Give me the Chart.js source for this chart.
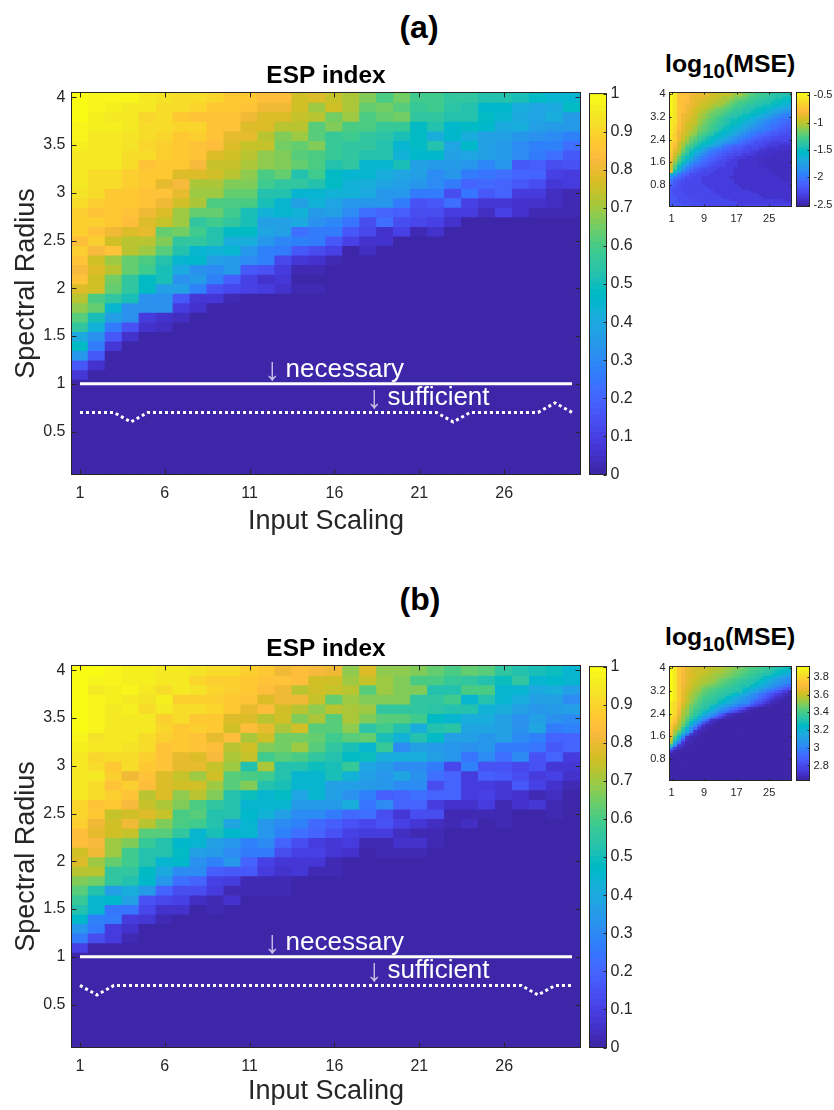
<!DOCTYPE html>
<html><head><meta charset="utf-8">
<script src="https://cdn.jsdelivr.net/npm/chart.js@4"></script>
<style>
html,body{margin:0;padding:0;background:#fff;width:834px;height:1110px;overflow:hidden;font-family:"Liberation Sans",Arial,sans-serif}
canvas{position:absolute}
.h{position:absolute;font-weight:bold;color:#000;white-space:nowrap;line-height:1}
.h.big{font-size:32px;width:100px;text-align:center}
.h.mse{font-size:24.8px}
.h.mse sub{font-size:20.5px;line-height:0;vertical-align:-6px}
</style></head><body>
<div class="h big" style="left:369px;top:11px">(a)</div>
<div class="h big" style="left:370px;top:583px">(b)</div>
<div class="h mse" style="left:665px;top:52px">log<sub>10</sub>(MSE)</div>
<div class="h mse" style="left:665px;top:625px">log<sub>10</sub>(MSE)</div>
<canvas id="mainA"></canvas><canvas id="cbA"></canvas><canvas id="smallA"></canvas><canvas id="cbSA"></canvas>
<canvas id="mainB"></canvas><canvas id="cbB"></canvas><canvas id="smallB"></canvas><canvas id="cbSB"></canvas>
<script>
const inputScaling=[1,2,3,4,5,6,7,8,9,10,11,12,13,14,15,16,17,18,19,20,21,22,23,24,25,26,27,28,29,30];
const spectralRadius=[4,3.9,3.8,3.7,3.6,3.5,3.4,3.3,3.2,3.1,3,2.9,2.8,2.7,2.6,2.5,2.4,2.3,2.2,2.1,2,1.9,1.8,1.7,1.6,1.5,1.4,1.3,1.2,1.1,1,.9,.8,.7,.6,.5,.4,.3,.2,.1];
const mainXTicks=[1,6,11,16,21,26], mainYTicks=[.5,1,1.5,2,2.5,3,3.5,4];
const smallXTicks=[1,9,17,25], smallYTicks=[.8,1.6,2.4,3.2,4];
const espTicks=[0,.1,.2,.3,.4,.5,.6,.7,.8,.9,1];
const mseTicksA=[-2.5,-2,-1.5,-1,-.5], mseTicksB=[2.8,3,3.2,3.4,3.6,3.8];
const necessary=[1,1,1,1,1,1,1,1,1,1,1,1,1,1,1,1,1,1,1,1,1,1,1,1,1,1,1,1,1,1];
const sufficientA=[.7,.7,.7,.6,.7,.7,.7,.7,.7,.7,.7,.7,.7,.7,.7,.7,.7,.7,.7,.7,.7,.7,.6,.7,.7,.7,.7,.7,.8,.7];
const sufficientB=[.7,.6,.7,.7,.7,.7,.7,.7,.7,.7,.7,.7,.7,.7,.7,.7,.7,.7,.7,.7,.7,.7,.7,.7,.7,.7,.7,.6,.7,.7];
const Z=[0,0,0,0,0,0,0,0,0,0,0,0,0,0,0,0,0,0,0,0,0,0,0,0,0,0,0,0,0,0];
const espA=[
[.99,.98,.97,.97,.94,.93,.92,.91,.90,.86,.87,.84,.83,.75,.78,.74,.71,.67,.60,.65,.59,.59,.55,.55,.53,.53,.50,.48,.44,.45],
[.99,.97,.96,.95,.95,.92,.91,.90,.87,.86,.85,.80,.80,.76,.70,.75,.71,.63,.65,.62,.57,.58,.54,.53,.46,.46,.42,.38,.40,.47],
[.99,.96,.95,.95,.90,.91,.87,.85,.85,.85,.80,.78,.77,.74,.73,.65,.70,.60,.63,.65,.55,.56,.52,.52,.47,.45,.40,.38,.42,.35],
[.98,.96,.96,.94,.92,.91,.90,.90,.85,.85,.78,.77,.72,.73,.62,.66,.60,.60,.57,.57,.47,.53,.46,.48,.46,.40,.42,.36,.35,.35],
[.97,.95,.95,.93,.92,.90,.86,.88,.85,.79,.79,.72,.66,.70,.62,.57,.58,.55,.54,.50,.48,.42,.46,.42,.37,.36,.34,.32,.30,.28],
[.96,.95,.94,.93,.90,.89,.86,.85,.84,.78,.74,.74,.65,.64,.66,.57,.55,.55,.53,.44,.47,.52,.38,.46,.37,.35,.30,.28,.27,.22],
[.95,.94,.94,.92,.91,.89,.87,.85,.77,.76,.72,.68,.66,.62,.60,.57,.55,.53,.53,.43,.46,.46,.37,.38,.36,.35,.30,.25,.23,.17],
[.95,.94,.94,.92,.85,.87,.86,.82,.74,.74,.71,.68,.66,.63,.60,.52,.56,.45,.44,.50,.37,.35,.35,.34,.29,.33,.17,.18,.14,.15],
[.94,.92,.92,.88,.86,.86,.77,.77,.75,.72,.68,.60,.63,.52,.58,.48,.45,.44,.41,.38,.36,.30,.34,.25,.24,.22,.19,.20,.10,.09],
[.94,.92,.91,.89,.86,.79,.82,.71,.71,.66,.67,.59,.55,.55,.52,.48,.43,.42,.38,.37,.33,.30,.25,.20,.21,.19,.17,.14,.07,.08],
[.93,.92,.87,.87,.85,.85,.79,.70,.70,.63,.64,.52,.52,.44,.44,.43,.43,.40,.33,.33,.26,.26,.13,.24,.16,.19,.08,.08,.04,.03],
[.92,.88,.87,.86,.85,.81,.75,.71,.60,.60,.60,.51,.44,.36,.43,.38,.33,.33,.33,.26,.15,.16,.22,.10,.07,.07,.06,.05,.04,.03],
[.89,.85,.86,.85,.81,.78,.69,.64,.63,.58,.50,.43,.44,.43,.35,.36,.30,.22,.20,.18,.13,.14,.09,.09,.04,.10,.05,.03,.02,.02],
[.89,.89,.86,.83,.77,.74,.69,.55,.58,.55,.51,.36,.36,.40,.32,.29,.24,.14,.22,.13,.12,.10,.06,0,0,0,0,0,0,0],
[.89,.85,.80,.78,.79,.64,.65,.59,.52,.47,.47,.38,.36,.22,.25,.26,.17,.12,.06,.10,.02,.05,0,0,0,0,0,0,0,0],
[.84,.89,.76,.72,.72,.67,.55,.56,.53,.42,.41,.34,.29,.28,.25,.17,.10,.06,.06,0,0,0,0,0,0,0,0,0,0,0],
[.89,.82,.85,.72,.70,.62,.53,.44,.43,.44,.34,.28,.25,.16,.14,.10,.01,.04,0,0,0,0,0,0,0,0,0,0,0,0],
[.85,.76,.70,.64,.60,.53,.44,.46,.36,.35,.30,.28,.12,.07,.05,.02,0,0,0,0,0,0,0,0,0,0,0,0,0,0],
[.82,.78,.72,.64,.58,.50,.40,.32,.31,.35,.17,.15,.09,.03,.02,.01,0,0,0,0,0,0,0,0,0,0,0,0,0,0],
[.85,.76,.65,.55,.47,.50,.32,.35,.28,.18,.10,.05,.07,0,0,0,0,0,0,0,0,0,0,0,0,0,0,0,0,0],
[.78,.75,.63,.55,.47,.36,.36,.27,.15,.12,.10,.08,.06,.03,.02,0,0,0,0,0,0,0,0,0,0,0,0,0,0,0],
[.72,.60,.55,.50,.32,.32,.17,.07,.07,.03,0,0,0,0,0,0,0,0,0,0,0,0,0,0,0,0,0,0,0,0],
[.68,.63,.45,.32,.32,.32,.08,.05,0,0,0,0,0,0,0,0,0,0,0,0,0,0,0,0,0,0,0,0,0,0],
[.61,.50,.37,.32,.08,.06,.04,0,0,0,0,0,0,0,0,0,0,0,0,0,0,0,0,0,0,0,0,0,0,0],
[.55,.43,.25,.15,.05,.04,0,0,0,0,0,0,0,0,0,0,0,0,0,0,0,0,0,0,0,0,0,0,0,0],
[.40,.32,.16,.05,0,0,0,0,0,0,0,0,0,0,0,0,0,0,0,0,0,0,0,0,0,0,0,0,0,0],
[.47,.26,.07,0,0,0,0,0,0,0,0,0,0,0,0,0,0,0,0,0,0,0,0,0,0,0,0,0,0,0],
[.33,.16,0,0,0,0,0,0,0,0,0,0,0,0,0,0,0,0,0,0,0,0,0,0,0,0,0,0,0,0],
[.16,.05,0,0,0,0,0,0,0,0,0,0,0,0,0,0,0,0,0,0,0,0,0,0,0,0,0,0,0,0],
[.07,0,0,0,0,0,0,0,0,0,0,0,0,0,0,0,0,0,0,0,0,0,0,0,0,0,0,0,0,0],
Z,Z,Z,Z,Z,Z,Z,Z,Z,Z];
const espB=[
[.99,.99,.97,.96,.96,.95,.95,.93,.91,.91,.88,.87,.80,.84,.82,.81,.68,.78,.68,.68,.67,.63,.60,.63,.62,.55,.53,.50,.49,.44],
[.99,.98,.97,.96,.96,.95,.95,.90,.89,.89,.86,.85,.85,.84,.75,.76,.70,.74,.70,.66,.60,.60,.57,.55,.52,.49,.56,.44,.46,.44],
[.99,.95,.96,.98,.95,.92,.94,.93,.90,.89,.87,.83,.80,.73,.76,.74,.72,.62,.70,.67,.67,.53,.52,.60,.60,.44,.44,.40,.41,.36],
[.99,.97,.96,.94,.93,.96,.88,.89,.89,.86,.85,.78,.81,.80,.74,.64,.70,.66,.66,.66,.55,.55,.58,.45,.52,.44,.42,.36,.37,.30],
[.99,.97,.95,.96,.92,.94,.91,.91,.90,.86,.79,.84,.75,.72,.68,.72,.71,.70,.56,.55,.55,.54,.52,.52,.43,.42,.37,.33,.35,.37],
[.99,.97,.95,.95,.95,.88,.91,.87,.86,.78,.78,.72,.75,.66,.71,.62,.71,.66,.61,.61,.58,.47,.45,.41,.42,.37,.32,.37,.32,.31],
[.99,.97,.95,.94,.94,.90,.87,.88,.86,.76,.84,.79,.71,.75,.62,.62,.68,.54,.58,.53,.42,.52,.54,.39,.39,.36,.32,.38,.26,.28],
[.97,.93,.95,.94,.92,.88,.87,.85,.79,.84,.71,.76,.65,.65,.63,.58,.62,.63,.51,.43,.52,.47,.37,.37,.33,.37,.30,.27,.20,.20],
[.96,.94,.95,.93,.92,.85,.87,.85,.84,.72,.75,.67,.65,.70,.61,.55,.51,.44,.57,.30,.36,.35,.34,.32,.33,.25,.26,.24,.17,.20],
[.95,.90,.92,.91,.88,.85,.79,.78,.82,.71,.74,.58,.62,.60,.55,.53,.48,.49,.42,.42,.41,.36,.33,.24,.30,.23,.31,.15,.20,.09],
[.95,.91,.87,.92,.87,.85,.79,.79,.74,.70,.53,.71,.53,.52,.49,.50,.57,.38,.35,.30,.30,.25,.12,.27,.15,.15,.12,.15,.07,.07],
[.95,.94,.88,.80,.85,.78,.74,.70,.75,.62,.60,.58,.53,.44,.44,.50,.43,.37,.33,.38,.32,.22,.20,.09,.18,.16,.13,.09,.10,.05],
[.95,.91,.85,.89,.84,.78,.76,.76,.70,.61,.66,.53,.50,.45,.45,.37,.36,.35,.33,.31,.30,.13,.20,.09,.09,.07,.16,.10,.05,.03],
[.94,.91,.89,.85,.72,.78,.68,.72,.66,.53,.49,.45,.47,.38,.45,.37,.32,.28,.18,.20,.22,.20,.20,.09,.10,.07,.05,.02,.04,.01],
[.90,.85,.86,.82,.74,.71,.66,.60,.56,.52,.44,.45,.44,.35,.35,.35,.42,.24,.30,.20,.20,.08,.05,.06,.08,.03,.06,.07,.03,.01],
[.90,.87,.74,.76,.78,.74,.60,.61,.52,.52,.46,.43,.37,.31,.30,.26,.21,.22,.14,.07,.14,.13,.02,.03,.02,.03,.01,.01,.02,0],
[.88,.80,.76,.81,.73,.67,.60,.58,.52,.38,.45,.33,.30,.27,.21,.18,.15,.12,.15,.10,.07,.04,.02,.04,.01,.02,0,0,0,0],
[.84,.79,.76,.74,.62,.62,.55,.44,.51,.46,.44,.33,.28,.22,.20,.15,.10,.09,.09,.04,.02,.03,0,0,0,0,0,0,0,0],
[.83,.82,.70,.67,.57,.52,.46,.45,.36,.33,.27,.30,.19,.13,.09,.07,.08,.02,.03,.06,.05,.02,0,0,0,0,0,0,0,0],
[.76,.80,.70,.58,.52,.52,.47,.36,.35,.30,.25,.25,.13,.10,.10,.07,.06,.01,.02,.02,.02,0,0,0,0,0,0,0,0,0],
[.77,.70,.64,.58,.52,.45,.46,.32,.28,.34,.20,.10,.07,.07,.07,.03,0,0,0,0,0,0,0,0,0,0,0,0,0,0],
[.73,.72,.56,.56,.47,.40,.30,.30,.18,.17,.17,.09,.06,.07,.02,.02,0,0,0,0,0,0,0,0,0,0,0,0,0,0],
[.67,.65,.55,.53,.46,.33,.22,.20,.10,.09,.03,.03,.02,0,0,0,0,0,0,0,0,0,0,0,0,0,0,0,0,0],
[.62,.53,.36,.42,.35,.20,.13,.13,.09,.03,.03,.03,.02,0,0,0,0,0,0,0,0,0,0,0,0,0,0,0,0,0],
[.57,.44,.46,.36,.15,.12,.10,.04,.03,.05,0,0,0,0,0,0,0,0,0,0,0,0,0,0,0,0,0,0,0,0],
[.52,.45,.24,.24,.11,.06,.05,.01,.02,0,0,0,0,0,0,0,0,0,0,0,0,0,0,0,0,0,0,0,0,0],
[.46,.28,.25,.08,.07,.03,0,0,0,0,0,0,0,0,0,0,0,0,0,0,0,0,0,0,0,0,0,0,0,0],
[.33,.26,.09,.05,0,0,0,0,0,0,0,0,0,0,0,0,0,0,0,0,0,0,0,0,0,0,0,0,0,0],
[.25,.14,.08,.03,0,0,0,0,0,0,0,0,0,0,0,0,0,0,0,0,0,0,0,0,0,0,0,0,0,0],
[.10,0,0,0,0,0,0,0,0,0,0,0,0,0,0,0,0,0,0,0,0,0,0,0,0,0,0,0,0,0],
Z,Z,Z,Z,Z,Z,Z,Z,Z,Z];
const mseA=[
[-.5,-.55,-.75,-.75,-.8,-.85,-.85,-.9,-.9,-.9,-.95,-.95,-1,-1,-1,-1.05,-1.1,-1.1,-1.15,-1.2,-1.25,-1.3,-1.3,-1.35,-1.35,-1.4,-1.4,-1.45,-1.45,-1.45],
[-.5,-.55,-.75,-.75,-.8,-.85,-.9,-.9,-.9,-.95,-.95,-1,-1,-1.05,-1.05,-1.1,-1.15,-1.15,-1.2,-1.25,-1.3,-1.3,-1.35,-1.35,-1.4,-1.4,-1.45,-1.45,-1.5,-1.5],
[-.5,-.55,-.75,-.8,-.8,-.85,-.9,-.9,-.95,-.95,-1,-1,-1.05,-1.05,-1.1,-1.15,-1.2,-1.25,-1.25,-1.3,-1.35,-1.35,-1.4,-1.4,-1.45,-1.45,-1.5,-1.5,-1.55,-1.55],
[-.5,-.6,-.75,-.8,-.8,-.85,-.9,-.95,-.95,-1,-1,-1.05,-1.05,-1.1,-1.15,-1.2,-1.25,-1.3,-1.3,-1.35,-1.35,-1.4,-1.4,-1.45,-1.45,-1.5,-1.5,-1.55,-1.6,-1.6],
[-.5,-.6,-.75,-.8,-.85,-.85,-.9,-.95,-1,-1,-1.05,-1.1,-1.1,-1.15,-1.2,-1.25,-1.3,-1.3,-1.35,-1.4,-1.4,-1.45,-1.45,-1.5,-1.5,-1.55,-1.6,-1.65,-1.65,-1.7],
[-.5,-.6,-.75,-.8,-.85,-.9,-.95,-1,-1,-1.05,-1.1,-1.15,-1.2,-1.2,-1.25,-1.3,-1.35,-1.35,-1.4,-1.45,-1.45,-1.5,-1.55,-1.55,-1.6,-1.65,-1.7,-1.7,-1.75,-1.8],
[-.5,-.6,-.75,-.8,-.85,-.9,-.95,-1,-1.05,-1.1,-1.15,-1.2,-1.2,-1.25,-1.3,-1.35,-1.4,-1.4,-1.45,-1.45,-1.5,-1.5,-1.55,-1.6,-1.65,-1.7,-1.75,-1.8,-1.85,-1.85],
[-.5,-.6,-.75,-.85,-.9,-.9,-.95,-1.05,-1.1,-1.15,-1.2,-1.2,-1.25,-1.3,-1.35,-1.4,-1.4,-1.45,-1.5,-1.5,-1.55,-1.6,-1.65,-1.7,-1.75,-1.8,-1.85,-1.9,-1.95,-1.95],
[-.5,-.6,-.75,-.85,-.9,-.95,-1,-1.05,-1.1,-1.15,-1.2,-1.25,-1.3,-1.35,-1.4,-1.45,-1.45,-1.5,-1.5,-1.55,-1.6,-1.65,-1.7,-1.75,-1.8,-1.85,-1.9,-1.95,-2,-2],
[-.55,-.6,-.75,-.85,-.9,-.95,-1,-1.1,-1.15,-1.2,-1.25,-1.3,-1.35,-1.4,-1.45,-1.5,-1.5,-1.55,-1.6,-1.65,-1.7,-1.75,-1.8,-1.85,-1.9,-1.95,-2,-2.05,-2.05,-2.1],
[-.55,-.6,-.8,-.85,-.95,-.95,-1,-1.1,-1.15,-1.2,-1.25,-1.3,-1.35,-1.4,-1.45,-1.5,-1.5,-1.55,-1.65,-1.7,-1.75,-1.8,-1.85,-1.9,-1.95,-2,-2,-2.05,-2.1,-2.15],
[-.55,-.65,-.8,-.9,-.95,-1,-1.05,-1.15,-1.2,-1.25,-1.3,-1.35,-1.4,-1.45,-1.5,-1.55,-1.6,-1.65,-1.7,-1.75,-1.8,-1.85,-1.9,-1.95,-2,-2.05,-2.05,-2.1,-2.15,-2.15],
[-.55,-.65,-.8,-.9,-.95,-1,-1.1,-1.15,-1.2,-1.25,-1.3,-1.35,-1.4,-1.5,-1.5,-1.6,-1.65,-1.7,-1.75,-1.8,-1.85,-1.9,-1.95,-1.95,-2,-2.05,-2.1,-2.15,-2.2,-2.2],
[-.55,-.65,-.85,-.9,-1,-1.05,-1.1,-1.2,-1.25,-1.3,-1.35,-1.45,-1.5,-1.55,-1.6,-1.65,-1.7,-1.75,-1.8,-1.9,-1.95,-2,-2,-2.05,-2.1,-2.15,-2.15,-2.2,-2.2,-2.25],
[-.6,-.7,-.85,-.95,-1,-1.1,-1.15,-1.25,-1.3,-1.35,-1.4,-1.5,-1.55,-1.6,-1.65,-1.7,-1.75,-1.85,-1.9,-1.95,-2,-2.05,-2.1,-2.1,-2.15,-2.2,-2.2,-2.25,-2.25,-2.25],
[-.6,-.7,-.85,-.95,-1.05,-1.15,-1.2,-1.3,-1.35,-1.45,-1.5,-1.55,-1.6,-1.65,-1.7,-1.8,-1.85,-1.9,-1.95,-2,-2.05,-2.1,-2.15,-2.2,-2.2,-2.25,-2.25,-2.3,-2.3,-2.3],
[-.6,-.7,-.9,-1,-1.1,-1.2,-1.25,-1.35,-1.45,-1.5,-1.55,-1.6,-1.7,-1.75,-1.8,-1.85,-1.9,-2,-2.05,-2.1,-2.15,-2.2,-2.2,-2.25,-2.25,-2.3,-2.3,-2.3,-2.3,-2.3],
[-.65,-.75,-.95,-1.05,-1.15,-1.25,-1.35,-1.45,-1.5,-1.55,-1.6,-1.7,-1.75,-1.85,-1.9,-1.95,-2,-2.05,-2.1,-2.15,-2.2,-2.25,-2.25,-2.3,-2.3,-2.35,-2.35,-2.35,-2.35,-2.35],
[-.65,-.8,-.95,-1.1,-1.25,-1.3,-1.4,-1.5,-1.6,-1.65,-1.7,-1.8,-1.85,-2,-2.05,-2.1,-2.15,-2.15,-2.2,-2.25,-2.25,-2.25,-2.3,-2.3,-2.35,-2.35,-2.35,-2.4,-2.4,-2.4],
[-.7,-.85,-1,-1.15,-1.3,-1.4,-1.5,-1.6,-1.7,-1.8,-1.9,-1.95,-2,-2.05,-2.1,-2.15,-2.2,-2.2,-2.25,-2.3,-2.3,-2.3,-2.35,-2.35,-2.4,-2.4,-2.4,-2.4,-2.4,-2.4],
[-.7,-.9,-1,-1.2,-1.3,-1.5,-1.6,-1.7,-1.8,-1.9,-2,-2.05,-2.1,-2.15,-2.2,-2.2,-2.25,-2.25,-2.3,-2.3,-2.35,-2.35,-2.4,-2.4,-2.4,-2.4,-2.4,-2.45,-2.45,-2.45],
[-.75,-.95,-1.1,-1.3,-1.45,-1.55,-1.7,-1.8,-1.9,-2,-2.05,-2.1,-2.15,-2.2,-2.25,-2.25,-2.3,-2.3,-2.35,-2.35,-2.35,-2.4,-2.4,-2.4,-2.4,-2.45,-2.45,-2.45,-2.45,-2.45],
[-.8,-1,-1.2,-1.4,-1.5,-1.65,-1.8,-1.9,-2,-2.05,-2.1,-2.15,-2.2,-2.25,-2.3,-2.3,-2.35,-2.35,-2.35,-2.4,-2.4,-2.4,-2.4,-2.45,-2.45,-2.45,-2.45,-2.45,-2.45,-2.45],
[-.85,-1.05,-1.25,-1.45,-1.6,-1.75,-1.85,-1.95,-2.05,-2.1,-2.15,-2.2,-2.25,-2.25,-2.3,-2.35,-2.35,-2.4,-2.4,-2.4,-2.4,-2.4,-2.45,-2.45,-2.45,-2.45,-2.45,-2.45,-2.45,-2.45],
[-.9,-1.15,-1.35,-1.55,-1.7,-1.9,-2,-2.05,-2.1,-2.15,-2.2,-2.25,-2.3,-2.3,-2.35,-2.35,-2.35,-2.4,-2.4,-2.4,-2.4,-2.4,-2.45,-2.45,-2.45,-2.45,-2.45,-2.45,-2.45,-2.45],
[-.95,-1.25,-1.5,-1.7,-1.85,-1.95,-2.05,-2.1,-2.15,-2.2,-2.25,-2.3,-2.3,-2.3,-2.35,-2.35,-2.35,-2.4,-2.4,-2.4,-2.4,-2.4,-2.4,-2.45,-2.45,-2.45,-2.45,-2.45,-2.45,-2.45],
[-.95,-1.3,-1.6,-1.8,-1.95,-2.05,-2.15,-2.2,-2.25,-2.25,-2.3,-2.3,-2.35,-2.35,-2.35,-2.35,-2.4,-2.4,-2.4,-2.4,-2.4,-2.4,-2.4,-2.4,-2.45,-2.45,-2.45,-2.45,-2.45,-2.45],
[-.85,-1.5,-1.75,-1.95,-2.05,-2.15,-2.2,-2.25,-2.3,-2.3,-2.3,-2.35,-2.35,-2.35,-2.35,-2.35,-2.4,-2.4,-2.4,-2.4,-2.4,-2.4,-2.4,-2.4,-2.4,-2.45,-2.45,-2.45,-2.45,-2.45],
[-1.6,-1.8,-2,-2.1,-2.15,-2.25,-2.25,-2.3,-2.3,-2.3,-2.35,-2.35,-2.35,-2.35,-2.35,-2.35,-2.4,-2.4,-2.4,-2.4,-2.4,-2.4,-2.4,-2.4,-2.4,-2.4,-2.45,-2.45,-2.45,-2.45],
[-1.85,-2,-2.1,-2.2,-2.25,-2.25,-2.3,-2.3,-2.35,-2.35,-2.35,-2.35,-2.35,-2.35,-2.35,-2.4,-2.4,-2.4,-2.4,-2.4,-2.4,-2.4,-2.4,-2.4,-2.4,-2.4,-2.4,-2.45,-2.45,-2.45],
[-2,-2.15,-2.2,-2.25,-2.3,-2.3,-2.3,-2.3,-2.35,-2.35,-2.35,-2.35,-2.35,-2.35,-2.35,-2.35,-2.4,-2.4,-2.4,-2.4,-2.4,-2.4,-2.4,-2.4,-2.4,-2.4,-2.4,-2.4,-2.45,-2.45],
[-2.1,-2.2,-2.25,-2.25,-2.3,-2.3,-2.3,-2.3,-2.35,-2.35,-2.35,-2.35,-2.35,-2.35,-2.35,-2.35,-2.4,-2.4,-2.4,-2.4,-2.4,-2.4,-2.4,-2.4,-2.4,-2.4,-2.4,-2.4,-2.4,-2.4],
[-2.15,-2.2,-2.25,-2.3,-2.3,-2.3,-2.3,-2.3,-2.3,-2.35,-2.35,-2.35,-2.35,-2.35,-2.35,-2.35,-2.35,-2.4,-2.4,-2.4,-2.4,-2.4,-2.4,-2.4,-2.4,-2.4,-2.4,-2.4,-2.4,-2.4],
[-2.2,-2.25,-2.25,-2.3,-2.3,-2.3,-2.3,-2.3,-2.3,-2.3,-2.35,-2.35,-2.35,-2.35,-2.35,-2.35,-2.35,-2.35,-2.4,-2.4,-2.4,-2.4,-2.4,-2.4,-2.4,-2.4,-2.4,-2.4,-2.4,-2.4],
[-2.2,-2.25,-2.25,-2.3,-2.3,-2.3,-2.3,-2.3,-2.3,-2.3,-2.3,-2.35,-2.35,-2.35,-2.35,-2.35,-2.35,-2.35,-2.35,-2.35,-2.4,-2.4,-2.4,-2.4,-2.4,-2.4,-2.4,-2.4,-2.4,-2.4],
[-2.2,-2.25,-2.25,-2.25,-2.3,-2.3,-2.3,-2.3,-2.3,-2.3,-2.3,-2.3,-2.35,-2.35,-2.35,-2.35,-2.35,-2.35,-2.35,-2.35,-2.35,-2.35,-2.4,-2.4,-2.4,-2.4,-2.4,-2.4,-2.4,-2.4],
[-2.2,-2.2,-2.25,-2.25,-2.25,-2.3,-2.3,-2.3,-2.3,-2.3,-2.3,-2.3,-2.3,-2.35,-2.35,-2.35,-2.35,-2.35,-2.35,-2.35,-2.35,-2.35,-2.35,-2.4,-2.4,-2.4,-2.4,-2.4,-2.4,-2.4],
[-2.2,-2.2,-2.25,-2.25,-2.25,-2.25,-2.3,-2.3,-2.3,-2.3,-2.3,-2.3,-2.3,-2.3,-2.3,-2.35,-2.35,-2.35,-2.35,-2.35,-2.35,-2.35,-2.35,-2.35,-2.35,-2.35,-2.35,-2.35,-2.4,-2.4],
[-2.2,-2.2,-2.2,-2.25,-2.25,-2.25,-2.25,-2.25,-2.3,-2.3,-2.3,-2.3,-2.3,-2.3,-2.3,-2.3,-2.3,-2.35,-2.35,-2.35,-2.35,-2.35,-2.35,-2.35,-2.35,-2.35,-2.35,-2.35,-2.35,-2.35],
[-2.15,-2.15,-2.2,-2.2,-2.2,-2.25,-2.25,-2.25,-2.25,-2.25,-2.3,-2.3,-2.3,-2.3,-2.3,-2.3,-2.3,-2.3,-2.3,-2.3,-2.3,-2.3,-2.3,-2.3,-2.3,-2.3,-2.3,-2.3,-2.3,-2.3]];
const D=[2.65,2.65,2.65,2.65,2.65,2.65,2.65,2.65,2.65,2.65,2.65,2.65,2.65,2.65,2.65,2.65,2.65,2.65,2.65,2.65,2.65,2.65,2.65,2.65,2.65,2.65,2.65,2.65,2.65,2.65];
const mseB=[
[3.9,3.85,3.75,3.7,3.65,3.62,3.6,3.6,3.6,3.58,3.58,3.56,3.56,3.55,3.53,3.5,3.49,3.47,3.45,3.43,3.41,3.4,3.38,3.36,3.34,3.32,3.3,3.28,3.26,3.24],
[3.9,3.85,3.75,3.68,3.65,3.62,3.6,3.6,3.58,3.58,3.56,3.55,3.54,3.52,3.5,3.48,3.46,3.44,3.42,3.4,3.38,3.37,3.36,3.34,3.32,3.3,3.27,3.25,3.22,3.2],
[3.9,3.85,3.75,3.68,3.65,3.62,3.6,3.58,3.58,3.56,3.55,3.53,3.52,3.5,3.48,3.46,3.44,3.42,3.4,3.38,3.36,3.35,3.33,3.31,3.3,3.27,3.24,3.2,3.17,3.13],
[3.9,3.85,3.75,3.68,3.65,3.62,3.6,3.58,3.57,3.55,3.54,3.52,3.5,3.48,3.46,3.44,3.42,3.4,3.38,3.36,3.34,3.33,3.3,3.27,3.24,3.21,3.17,3.13,3.1,3.06],
[3.9,3.85,3.75,3.68,3.64,3.6,3.58,3.57,3.55,3.54,3.52,3.5,3.47,3.45,3.43,3.41,3.39,3.37,3.35,3.33,3.31,3.3,3.26,3.22,3.19,3.15,3.11,3.07,3.04,3],
[3.9,3.85,3.75,3.68,3.64,3.6,3.58,3.56,3.54,3.52,3.5,3.48,3.45,3.43,3.41,3.39,3.37,3.35,3.33,3.31,3.3,3.25,3.22,3.18,3.14,3.1,3.07,3.04,3.02,3],
[3.9,3.85,3.75,3.67,3.63,3.6,3.57,3.55,3.5,3.48,3.46,3.44,3.42,3.4,3.38,3.36,3.34,3.32,3.31,3.3,3.25,3.21,3.18,3.14,3.1,3.07,3.03,3,2.95,2.9],
[3.9,3.85,3.75,3.66,3.62,3.58,3.55,3.52,3.47,3.45,3.43,3.41,3.39,3.37,3.35,3.33,3.32,3.31,3.27,3.22,3.18,3.14,3.1,3.07,3.03,3,2.95,2.9,2.85,2.8],
[3.9,3.85,3.75,3.65,3.61,3.57,3.53,3.5,3.45,3.43,3.41,3.39,3.37,3.35,3.34,3.32,3.31,3.3,3.22,3.18,3.14,3.1,3.05,3,2.95,2.9,2.85,2.8,2.75,2.72],
[3.9,3.85,3.75,3.65,3.6,3.55,3.5,3.46,3.43,3.41,3.39,3.37,3.35,3.32,3.3,3.27,3.22,3.18,3.14,3.1,3.05,3,2.95,2.9,2.85,2.8,2.76,2.72,2.69,2.67],
[3.9,3.85,3.75,3.65,3.58,3.53,3.5,3.44,3.41,3.39,3.37,3.35,3.32,3.3,3.25,3.2,3.17,3.13,3.1,3.05,3.02,3,2.92,2.87,2.82,2.77,2.7,2.68,2.66,2.65],
[3.9,3.85,3.75,3.65,3.58,3.52,3.47,3.42,3.39,3.37,3.34,3.32,3.28,3.24,3.2,3.16,3.12,3.08,3.04,3,2.96,2.9,2.85,2.8,2.74,2.7,2.67,2.66,2.65,2.65],
[3.85,3.8,3.72,3.62,3.56,3.5,3.44,3.4,3.37,3.34,3.32,3.3,3.25,3.2,3.16,3.12,3.08,3.04,3.02,3,2.9,2.85,2.8,2.75,2.7,2.67,2.66,2.65,2.65,2.65],
[3.85,3.8,3.7,3.6,3.55,3.47,3.42,3.38,3.35,3.32,3.28,3.2,3.16,3.12,3.08,3.04,3,2.96,2.92,2.88,2.82,2.77,2.72,2.68,2.66,2.65,2.65,2.65,2.65,2.65],
[3.85,3.8,3.7,3.58,3.52,3.44,3.4,3.36,3.33,3.3,3.22,3.16,3.11,3.05,3,2.95,2.9,2.85,2.78,2.7,2.67,2.66,2.65,2.65,2.65,2.65,2.65,2.65,2.65,2.65],
[3.85,3.8,3.68,3.55,3.5,3.42,3.37,3.33,3.28,3.2,3.14,3.08,3.02,2.97,2.92,2.85,2.8,2.72,2.68,2.66,2.65,2.65,2.65,2.65,2.65,2.65,2.65,2.65,2.65,2.65],
[3.85,3.8,3.66,3.55,3.5,3.4,3.35,3.3,3.2,3.12,3.06,3,2.9,2.8,2.7,2.68,2.66,2.65,2.65,2.65,2.65,2.65,2.65,2.65,2.65,2.65,2.65,2.65,2.65,2.65],
[3.82,3.75,3.62,3.53,3.45,3.37,3.3,3.2,3.1,3.04,2.96,2.86,2.78,2.7,2.67,2.66,2.65,2.65,2.65,2.65,2.65,2.65,2.65,2.65,2.65,2.65,2.65,2.65,2.65,2.65],
[3.8,3.72,3.6,3.5,3.42,3.3,3.22,3.1,3,2.9,2.7,2.68,2.66,2.65,2.65,2.65,2.65,2.65,2.65,2.65,2.65,2.65,2.65,2.65,2.65,2.65,2.65,2.65,2.65,2.65],
[3.78,3.7,3.57,3.48,3.36,3.25,3.1,3,2.85,2.72,2.68,2.66,2.65,2.65,2.65,2.65,2.65,2.65,2.65,2.65,2.65,2.65,2.65,2.65,2.65,2.65,2.65,2.65,2.65,2.65],
[3.75,3.65,3.55,3.45,3.3,3.15,3,2.85,2.7,2.67,2.66,2.65,2.65,2.65,2.65,2.65,2.65,2.65,2.65,2.65,2.65,2.65,2.65,2.65,2.65,2.65,2.65,2.65,2.65,2.65],
[3.72,3.6,3.52,3.35,3.2,3.05,2.9,2.72,2.67,2.66,2.65,2.65,2.65,2.65,2.65,2.65,2.65,2.65,2.65,2.65,2.65,2.65,2.65,2.65,2.65,2.65,2.65,2.65,2.65,2.65],
[3.7,3.55,3.45,3.3,3.12,3,2.7,2.67,2.66,2.65,2.65,2.65,2.65,2.65,2.65,2.65,2.65,2.65,2.65,2.65,2.65,2.65,2.65,2.65,2.65,2.65,2.65,2.65,2.65,2.65],
[3.68,3.5,3.35,3.15,3,2.75,2.68,2.66,2.65,2.65,2.65,2.65,2.65,2.65,2.65,2.65,2.65,2.65,2.65,2.65,2.65,2.65,2.65,2.65,2.65,2.65,2.65,2.65,2.65,2.65],
[3.65,3.4,3.2,3,2.7,2.67,2.66,2.65,2.65,2.65,2.65,2.65,2.65,2.65,2.65,2.65,2.65,2.65,2.65,2.65,2.65,2.65,2.65,2.65,2.65,2.65,2.65,2.65,2.65,2.65],
[3.6,3.3,3.1,2.85,2.68,2.66,2.65,2.65,2.65,2.65,2.65,2.65,2.65,2.65,2.65,2.65,2.65,2.65,2.65,2.65,2.65,2.65,2.65,2.65,2.65,2.65,2.65,2.65,2.65,2.65],
[3.5,3.15,2.95,2.72,2.67,2.66,2.65,2.65,2.65,2.65,2.65,2.65,2.65,2.65,2.65,2.65,2.65,2.65,2.65,2.65,2.65,2.65,2.65,2.65,2.65,2.65,2.65,2.65,2.65,2.65],
[3.3,3,2.72,2.68,2.66,2.65,2.65,2.65,2.65,2.65,2.65,2.65,2.65,2.65,2.65,2.65,2.65,2.65,2.65,2.65,2.65,2.65,2.65,2.65,2.65,2.65,2.65,2.65,2.65,2.65],
[3,2.75,2.68,2.66,2.65,2.65,2.65,2.65,2.65,2.65,2.65,2.65,2.65,2.65,2.65,2.65,2.65,2.65,2.65,2.65,2.65,2.65,2.65,2.65,2.65,2.65,2.65,2.65,2.65,2.65],
[2.72,2.66,2.65,2.65,2.65,2.65,2.65,2.65,2.65,2.65,2.65,2.65,2.65,2.65,2.65,2.65,2.65,2.65,2.65,2.65,2.65,2.65,2.65,2.65,2.65,2.65,2.65,2.65,2.65,2.65],
D,D,D,D,D,D,D,D,D,D,D];
const parula=[[.2422,.1504,.6603],[.2504,.165,.7076],[.2578,.1818,.7511],[.2647,.1978,.7952],[.2706,.2147,.8364],[.2751,.2342,.871],[.2783,.2559,.8991],[.2803,.2782,.9221],[.2813,.3006,.9414],[.281,.3228,.9579],[.2795,.3447,.9717],[.276,.3667,.9829],[.2699,.3892,.9906],[.2602,.4123,.9952],[.244,.4358,.9988],[.2206,.4603,.9973],[.1963,.4847,.9892],[.1834,.5074,.9798],[.1786,.5289,.9682],[.1764,.5499,.952],[.1687,.5703,.9359],[.154,.5902,.9218],[.146,.6091,.9079],[.138,.6276,.8973],[.1248,.6459,.8883],[.1113,.6635,.8763],[.0952,.6798,.8598],[.0689,.6948,.8394],[.0297,.7082,.8163],[.0036,.7203,.7917],[.0067,.7312,.766],[.0433,.7411,.7394],[.0964,.75,.712],[.1408,.7584,.6842],[.1717,.767,.6554],[.1938,.7758,.6251],[.2161,.7843,.5923],[.247,.7918,.5567],[.2906,.7973,.5188],[.3406,.8008,.4789],[.3909,.8029,.4354],[.4456,.8024,.3909],[.5044,.7993,.348],[.5616,.7942,.3045],[.6174,.7876,.2612],[.672,.7793,.2227],[.7242,.7698,.191],[.7738,.7598,.1646],[.8203,.7498,.1535],[.8634,.7406,.1596],[.9035,.733,.1774],[.9393,.7288,.21],[.9728,.7298,.2394],[.9956,.7434,.2371],[.997,.7659,.2199],[.9952,.7861,.1964],[.9892,.8136,.1885],[.9786,.8386,.1766],[.9676,.8639,.1643],[.961,.889,.1537],[.9597,.9135,.1423],[.9628,.9373,.1265],[.9691,.9606,.1064],[.9769,.9839,.0805]];
const css=c=>`rgb(${Math.round(c[0]*255)},${Math.round(c[1]*255)},${Math.round(c[2]*255)})`;
const colorFor=(v,min,max)=>css(parula[Math.max(0,Math.min(63,Math.floor((v-min)/(max-min)*64)))]);
const INK='#262626', FONT='"Liberation Sans",Arial,sans-serif', ROW=.05;
Chart.defaults.font.family=FONT;

const frame={id:'frame',afterDatasetsDraw(ch,_,o){
  const a=ch.chartArea,c=ch.ctx,L=o.len;c.save();c.strokeStyle=INK;c.lineWidth=1;
  c.beginPath();
  if(ch.scales.x.options.display)ch.scales.x.ticks.forEach(t=>{const p=Math.round(ch.scales.x.getPixelForValue(t.value))+.5;c.moveTo(p,a.bottom);c.lineTo(p,a.bottom-L);c.moveTo(p,a.top);c.lineTo(p,a.top+L);});
  ch.scales.y.ticks.forEach(t=>{const p=Math.round(ch.scales.y.getPixelForValue(t.value))+.5;
    if(!o.bar){c.moveTo(a.left,p);c.lineTo(a.left+L,p);}
    c.moveTo(a.right,p);c.lineTo(a.right-L,p);});
  c.stroke();c.strokeRect(a.left,a.top,a.right-a.left,a.bottom-a.top);
  (o.notes||[]).forEach(n=>{const X=ch.scales.x.getPixelForValue(inputScaling.indexOf(n.x)),Y=ch.scales.y.getPixelForValue(n.y);
    c.fillStyle='#fff';c.textBaseline='alphabetic';
    c.save();c.globalAlpha=.7;c.font='32px '+FONT;c.fillText('↓',X-2,Y+3);c.restore();
    c.font='26px '+FONT;c.fillText(n.text,X+19,Y);});
  c.restore();}};

function place(id,cv){
  const el=document.getElementById(id);el.style.left=cv.l+'px';el.style.top=cv.t+'px';el.width=cv.w;el.height=cv.h;
  return el;
}
function heat(id,cv,area,m,min,max,o){
  const el=place(id,cv);
  const sets=m.map((row,i)=>({type:'bar',order:1,grouped:false,barPercentage:1,categoryPercentage:1,borderWidth:0,inflateAmount:.7,
    data:row.map(()=>[spectralRadius[i]-ROW,spectralRadius[i]+ROW]),backgroundColor:row.map(v=>colorFor(v,min,max))}));
  (o.lines||[]).forEach(l=>sets.push({type:'line',order:0,data:l.data,borderColor:'#fff',borderWidth:3,pointRadius:0,tension:0,borderDash:l.dash||[],borderCapStyle:'butt'}));
  const titleH=o.title?32.6:0;
  return new Chart(el,{type:'bar',data:{labels:inputScaling,datasets:sets},plugins:[frame],options:{
    responsive:false,animation:false,events:[],
    layout:{padding:{top:area.t-cv.t-titleH,left:0,right:cv.l+cv.w-area.r,bottom:0}},
    plugins:{legend:{display:false},tooltip:{enabled:false},
      title:o.title?{display:true,text:o.title,fullSize:false,color:'#000',font:{size:24.4,weight:'bold',family:FONT,lineHeight:1.2},padding:{top:1.5,bottom:1.8}}:{display:false},
      frame:{len:o.tick,notes:o.notes}},
    scales:{
      x:{type:'category',offset:true,grid:{display:false,drawTicks:false},border:{display:false},
        afterFit:s=>{s.height=cv.t+cv.h-area.b;},
        afterBuildTicks:s=>{s.ticks=s.ticks.filter(t=>o.xt.includes(inputScaling[t.value]));},
        ticks:{autoSkip:false,maxRotation:0,minRotation:0,color:INK,padding:o.xpad,font:{size:o.fs}},
        title:o.xlabel?{display:true,text:o.xlabel,color:INK,font:{size:27},padding:{top:0,bottom:2.5}}:{display:false}},
      y:{type:'linear',min:.05,max:4.05,grid:{display:false,drawTicks:false},border:{display:false},
        afterFit:s=>{s.width=area.l-cv.l;},
        afterBuildTicks:s=>{s.ticks=o.yt.map(v=>({value:v}));},
        ticks:{color:INK,padding:o.ypad,font:{size:o.fs},callback:v=>String(v)},
        title:o.ylabel?{display:true,text:o.ylabel,color:INK,font:{size:27},padding:{top:10.5,bottom:0}}:{display:false}}
    }}});
}
function colorbar(id,cv,area,min,max,ticks,fs,tick){
  const el=place(id,cv);
  const sets=parula.map((c,i)=>({type:'bar',grouped:false,barPercentage:1,categoryPercentage:1,borderWidth:0,inflateAmount:.7,
    data:[[min+(max-min)*i/64,min+(max-min)*(i+1)/64]],backgroundColor:css(c)}));
  return new Chart(el,{type:'bar',data:{labels:['c'],datasets:sets},plugins:[frame],options:{
    responsive:false,animation:false,events:[],
    layout:{padding:{top:area.t-cv.t,left:area.l-cv.l,right:0,bottom:cv.t+cv.h-area.b}},
    plugins:{legend:{display:false},tooltip:{enabled:false},frame:{len:tick,bar:true}},
    scales:{x:{display:false,offset:true},
      y:{position:'right',type:'linear',min,max,grid:{display:false,drawTicks:false},border:{display:false},
        afterFit:s=>{s.width=cv.l+cv.w-area.r;},
        afterBuildTicks:s=>{s.ticks=ticks.map(v=>({value:v}));},
        ticks:{color:INK,padding:4,font:{size:fs},callback:v=>String(v)}}}}});
}
const mainOpts=(suff)=>({tick:5,fs:16,xpad:9,ypad:6,xt:mainXTicks,yt:mainYTicks,title:'ESP index',xlabel:'Input Scaling',ylabel:'Spectral Radius',
  lines:[{data:necessary},{data:suff,dash:[3,3]}],
  notes:[{text:'necessary',x:12,y:1.067},{text:'sufficient',x:18,y:.777}]});
const smallOpts={tick:2,fs:11,xpad:6,ypad:4,xt:smallXTicks,yt:smallYTicks};

heat('mainA',{l:0,t:60,w:584,h:480},{l:71.5,r:580.5,t:92.5,b:474.5},espA,0,1,mainOpts(sufficientA));
colorbar('cbA',{l:586,t:80,w:50,h:410},{l:589.5,r:606.5,t:92.5,b:474.5},0,1,espTicks,16,3);
heat('smallA',{l:640,t:72,w:154,h:158},{l:669.5,r:791.5,t:92.5,b:206.5},mseA,-2.53,-.45,smallOpts);
colorbar('cbSA',{l:794,t:72,w:40,h:150},{l:796.5,r:809.5,t:92.5,b:206.5},-2.53,-.45,mseTicksA,11,2);

heat('mainB',{l:0,t:633,w:584,h:477},{l:71.5,r:580.5,t:665.5,b:1047.5},espB,0,1,mainOpts(sufficientB));
colorbar('cbB',{l:586,t:653,w:50,h:410},{l:589.5,r:606.5,t:665.5,b:1047.5},0,1,espTicks,16,3);
heat('smallB',{l:640,t:646,w:154,h:158},{l:669.5,r:791.5,t:666.5,b:780.5},mseB,2.63,3.92,smallOpts);
colorbar('cbSB',{l:794,t:646,w:40,h:150},{l:796.5,r:809.5,t:666.5,b:780.5},2.63,3.92,mseTicksB,11,2);
</script></body></html>
